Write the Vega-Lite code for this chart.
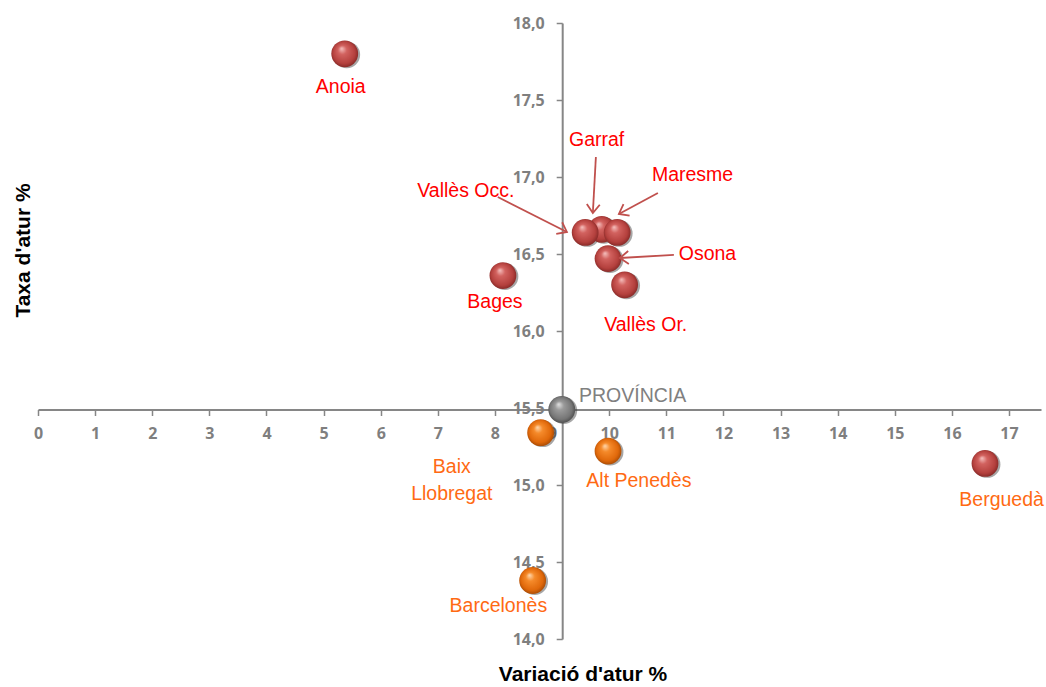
{
  "$schema": "https://vega.github.io/schema/vega-lite/v6.json",
  "width": 1003,
  "height": 616,
  "autosize": {"type": "none"},
  "padding": {"left": 38, "top": 23, "right": 5, "bottom": 48},
  "background": "#ffffff",
  "config": {"view": {"stroke": null}},
  "datasets": {
    "punts": [
      {"comarca": "Anoia", "variacio": 5.37, "taxa": 17.80, "grup_punt": "vermell", "grup_etiqueta": "vermell", "etiqueta": "Anoia", "lx": 5.30, "ly": 17.584},
      {"comarca": "Garraf", "variacio": 9.87, "taxa": 16.66, "grup_punt": "vermell", "grup_etiqueta": "vermell", "etiqueta": "Garraf", "lx": 9.78, "ly": 17.24},
      {"comarca": "Vallès Occ.", "variacio": 9.58, "taxa": 16.64, "grup_punt": "vermell", "grup_etiqueta": "vermell", "etiqueta": "Vallès Occ.", "lx": 7.49, "ly": 16.91},
      {"comarca": "Maresme", "variacio": 10.14, "taxa": 16.64, "grup_punt": "vermell", "grup_etiqueta": "vermell", "etiqueta": "Maresme", "lx": 11.46, "ly": 17.01},
      {"comarca": "Osona", "variacio": 9.98, "taxa": 16.47, "grup_punt": "vermell", "grup_etiqueta": "vermell", "etiqueta": "Osona", "lx": 11.72, "ly": 16.50},
      {"comarca": "Vallès Or.", "variacio": 10.27, "taxa": 16.30, "grup_punt": "vermell", "grup_etiqueta": "vermell", "etiqueta": "Vallès Or.", "lx": 10.64, "ly": 16.04},
      {"comarca": "Bages", "variacio": 8.14, "taxa": 16.36, "grup_punt": "vermell", "grup_etiqueta": "vermell", "etiqueta": "Bages", "lx": 8.00, "ly": 16.19},
      {"comarca": "PROVÍNCIA", "variacio": 9.17, "taxa": 15.49, "grup_punt": "gris", "grup_etiqueta": "gris", "etiqueta": "PROVÍNCIA", "lx": 10.41, "ly": 15.576},
      {"comarca": "Baix Llobregat", "variacio": 8.80, "taxa": 15.34, "grup_punt": "taronja", "grup_etiqueta": "taronja", "etiqueta": "Baix\nLlobregat", "lx": 7.245, "ly": 15.12},
      {"comarca": "Alt Penedès", "variacio": 9.98, "taxa": 15.22, "grup_punt": "taronja", "grup_etiqueta": "taronja", "etiqueta": "Alt Penedès", "lx": 10.52, "ly": 15.026},
      {"comarca": "Barcelonès", "variacio": 8.66, "taxa": 14.38, "grup_punt": "taronja", "grup_etiqueta": "taronja", "etiqueta": "Barcelonès", "lx": 8.06, "ly": 14.216},
      {"comarca": "Berguedà", "variacio": 16.58, "taxa": 15.14, "grup_punt": "vermell", "grup_etiqueta": "taronja", "etiqueta": "Berguedà", "lx": 16.87, "ly": 14.90}
    ],
    "fletxes": [
      {"comarca": "Vallès Occ.", "x0": 8.05, "y0": 16.870, "x1": 9.26, "y1": 16.643, "angle": 27},
      {"comarca": "Garraf", "x0": 9.767, "y0": 17.130, "x1": 9.714, "y1": 16.766, "angle": 93},
      {"comarca": "Maresme", "x0": 10.853, "y0": 16.896, "x1": 10.170, "y1": 16.760, "angle": 152},
      {"comarca": "Osona", "x0": 11.133, "y0": 16.494, "x1": 10.187, "y1": 16.474, "angle": 177}
    ]
  },
  "layer": [
    {
      "data": {"name": "punts"},
      "mark": {"type": "circle", "size": 720, "color": "#3a3a3a", "opacity": 0.45, "xOffset": 2, "yOffset": 1},
      "encoding": {
        "x": {
          "field": "variacio", "type": "quantitative",
          "scale": {"domain": [0, 17.56], "nice": false, "zero": false},
          "axis": {
            "values": [0, 1, 2, 3, 4, 5, 6, 7, 8, 9, 10, 11, 12, 13, 14, 15, 16, 17],
            "format": "d",
            "offset": -229.5,
            "grid": false,
            "domainColor": "#868686", "domainWidth": 2,
            "tickColor": "#868686", "tickWidth": 1.5, "tickSize": 6,
            "labelFont": "Open Sans", "labelFontSize": 16, "labelFontWeight": "bold", "labelColor": "#7f7f7f",
            "labelPadding": 10, "labelOverlap": false, "labelFlush": false,
            "title": "Variació d'atur %",
            "titleFont": "Liberation Sans", "titleFontSize": 21, "titleFontWeight": "bold", "titleColor": "#000000",
            "titleX": 544.5, "titleY": 270.5, "titleAlign": "center", "titleBaseline": "alphabetic", "titleAnchor": null
          }
        },
        "y": {
          "field": "taxa", "type": "quantitative",
          "scale": {"domain": [14, 18], "nice": false, "zero": false},
          "axis": {
            "values": [14, 14.5, 15, 15.5, 16, 16.5, 17, 17.5, 18],
            "labelExpr": "replace(format(datum.value, '.1f'), '.', ',')",
            "offset": -524.2,
            "grid": false,
            "domainColor": "#868686", "domainWidth": 2,
            "tickColor": "#868686", "tickWidth": 1.5, "tickSize": 6,
            "labelFont": "Open Sans", "labelFontSize": 16, "labelFontWeight": "bold", "labelColor": "#7f7f7f",
            "labelPadding": 12, "labelOverlap": false, "labelFlush": false,
            "title": "Taxa d'atur %",
            "titleFont": "Liberation Sans", "titleFontSize": 21, "titleFontWeight": "bold", "titleColor": "#000000",
            "titleX": -538.7, "titleY": 227, "titleAngle": -90, "titleAlign": "center", "titleBaseline": "middle", "titleAnchor": null
          }
        }
      }
    },
    {
      "data": {"name": "punts"},
      "transform": [{"filter": "datum.grup_punt == 'vermell'"}],
      "mark": {
        "type": "circle", "size": 720, "opacity": 1,
        "color": {"gradient": "radial", "x1": 0.38, "y1": 0.3, "r1": 0, "x2": 0.5, "y2": 0.5, "r2": 0.55,
          "stops": [{"offset": 0, "color": "#f6c2c0"}, {"offset": 0.3, "color": "#d2625f"}, {"offset": 0.75, "color": "#b4403d"}, {"offset": 1, "color": "#7a2422"}]}
      },
      "encoding": {
        "x": {"field": "variacio", "type": "quantitative"},
        "y": {"field": "taxa", "type": "quantitative"}
      }
    },
    {
      "data": {"name": "punts"},
      "transform": [{"filter": "datum.grup_punt == 'taronja'"}],
      "mark": {
        "type": "circle", "size": 720, "opacity": 1,
        "color": {"gradient": "radial", "x1": 0.38, "y1": 0.3, "r1": 0, "x2": 0.5, "y2": 0.5, "r2": 0.55,
          "stops": [{"offset": 0, "color": "#ffd9b0"}, {"offset": 0.3, "color": "#f58a2a"}, {"offset": 0.75, "color": "#e0680a"}, {"offset": 1, "color": "#9a4404"}]}
      },
      "encoding": {
        "x": {"field": "variacio", "type": "quantitative"},
        "y": {"field": "taxa", "type": "quantitative"}
      }
    },
    {
      "data": {"name": "punts"},
      "transform": [{"filter": "datum.grup_punt == 'gris'"}],
      "mark": {
        "type": "circle", "size": 720, "opacity": 1,
        "color": {"gradient": "radial", "x1": 0.38, "y1": 0.3, "r1": 0, "x2": 0.5, "y2": 0.5, "r2": 0.55,
          "stops": [{"offset": 0, "color": "#e2e2e2"}, {"offset": 0.3, "color": "#9a9a9a"}, {"offset": 0.75, "color": "#767676"}, {"offset": 1, "color": "#444444"}]}
      },
      "encoding": {
        "x": {"field": "variacio", "type": "quantitative"},
        "y": {"field": "taxa", "type": "quantitative"}
      }
    },
    {
      "data": {"name": "fletxes"},
      "mark": {"type": "rule", "color": "#c0504d", "strokeWidth": 1.8},
      "encoding": {
        "x": {"field": "x0", "type": "quantitative"},
        "y": {"field": "y0", "type": "quantitative"},
        "x2": {"field": "x1"},
        "y2": {"field": "y1"}
      }
    },
    {
      "data": {"name": "fletxes"},
      "mark": {"type": "point", "shape": "M-1,-0.75L0,0L-1,0.75", "filled": false, "stroke": "#c0504d", "strokeWidth": 1.8, "size": 300, "opacity": 1},
      "encoding": {
        "x": {"field": "x1", "type": "quantitative"},
        "y": {"field": "y1", "type": "quantitative"},
        "angle": {"field": "angle", "type": "quantitative", "scale": null}
      }
    },
    {
      "data": {"name": "punts"},
      "mark": {"type": "text", "font": "Liberation Sans", "fontSize": 19.5, "align": "center", "baseline": "middle", "lineBreak": "\n", "lineHeight": 27},
      "encoding": {
        "x": {"field": "lx", "type": "quantitative"},
        "y": {"field": "ly", "type": "quantitative"},
        "text": {"field": "etiqueta"},
        "color": {"field": "grup_etiqueta", "type": "nominal", "scale": {"domain": ["vermell", "taronja", "gris"], "range": ["#ff0000", "#ff6a13", "#808080"]}, "legend": null}
      }
    }
  ]
}
